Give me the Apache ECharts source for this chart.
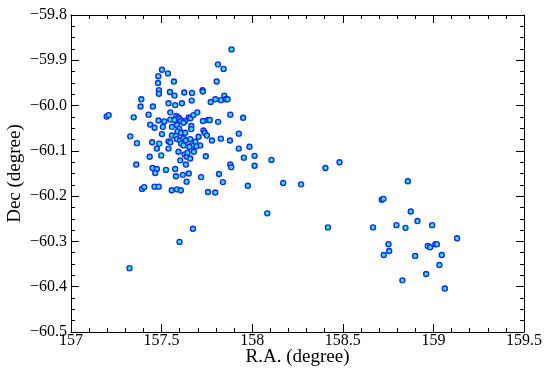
<!DOCTYPE html>
<html>
<head>
<meta charset="utf-8">
<script src="https://cdn.jsdelivr.net/npm/echarts@6/dist/echarts.min.js"></script>
<style>html,body{margin:0;padding:0;background:#fff}#c{width:550px;height:380px}</style>
</head>
<body>
<div id="c"></div>
<script>
// Tick values (labels)
var xTicks = [157, 157.5, 158, 158.5, 159, 159.5];
var yTicks = [-60.5, -60.4, -60.3, -60.2, -60.1, -60.0, -59.9, -59.8];
var xTitle = 'R.A. (degree)';
var yTitle = 'Dec (degree)';

// Source positions: right ascension (degree)
var ra = [
157.197,157.208,157.346,157.327,157.364,157.388,157.384,157.452,157.428,157.437,
157.483,157.515,157.502,157.482,157.535,157.480,157.485,157.485,157.568,157.546,
157.571,157.625,157.668,157.666,157.726,157.728,157.538,157.575,157.612,157.548,
157.581,157.592,157.599,157.607,157.548,157.571,157.630,157.650,157.659,157.676,
157.697,157.728,157.756,157.766,157.812,157.771,157.797,157.828,157.846,157.854,
157.864,157.804,157.811,157.842,157.886,157.879,157.950,157.926,157.557,157.585,
157.597,157.588,157.621,157.664,157.664,157.731,157.738,157.750,157.557,157.579,
157.608,157.630,157.585,157.603,157.621,157.634,157.658,157.686,157.704,157.713,
157.691,157.667,157.653,157.608,157.621,157.778,157.827,157.877,157.926,157.954,
157.985,158.013,158.106,158.013,157.976,157.593,157.627,157.640,157.643,157.658,
157.603,157.634,157.744,157.879,157.884,157.524,157.575,157.617,157.650,157.579,
157.718,157.817,157.638,157.838,157.556,157.585,157.606,157.756,157.796,157.392,
157.404,157.461,157.484,157.360,157.450,157.474,157.465,157.434,157.498,157.474,
157.538,157.448,157.487,157.538,157.548,157.502,157.461,157.507,157.678,
158.171,158.270,158.404,158.482,158.083,158.418,157.673,157.599,157.323,
158.859,158.715,158.724,158.875,158.912,158.993,158.667,158.796,158.846,159.131,
158.752,158.756,158.726,158.969,158.982,159.011,159.019,159.046,158.899,159.033,
158.960,158.829,159.063
];
// Source positions: declination (degree)
var dec = [
-60.024,-60.021,-60.026,-60.068,-60.083,-59.986,-60.002,-60.002,-60.020,-60.042,
-60.033,-60.035,-59.921,-59.935,-59.929,-59.950,-59.966,-59.974,-59.947,-59.970,
-59.978,-59.971,-59.972,-59.989,-59.966,-59.969,-59.995,-59.999,-59.995,-60.015,
-60.023,-60.026,-60.029,-60.034,-60.031,-60.032,-60.034,-60.026,-60.028,-60.021,
-60.015,-60.034,-60.032,-60.032,-60.036,-59.992,-59.986,-59.988,-59.978,-59.986,
-59.986,-59.947,-59.909,-59.919,-59.876,-60.020,-60.027,-60.062,-60.047,-60.043,
-60.051,-60.057,-60.038,-60.045,-60.052,-60.055,-60.060,-60.066,-60.066,-60.067,
-60.060,-60.060,-60.074,-60.077,-60.072,-60.077,-60.074,-60.080,-60.069,-60.088,
-60.090,-60.088,-60.091,-60.084,-60.088,-60.077,-60.073,-60.077,-60.095,-60.115,
-60.091,-60.111,-60.120,-60.133,-60.177,-60.102,-60.108,-60.113,-60.104,-60.117,
-60.121,-60.130,-60.112,-60.130,-60.136,-60.142,-60.140,-60.153,-60.150,-60.156,
-60.158,-60.151,-60.168,-60.169,-60.187,-60.185,-60.187,-60.191,-60.192,-60.184,
-60.180,-60.179,-60.179,-60.130,-60.138,-60.140,-60.149,-60.113,-60.110,-60.095,
-60.095,-60.081,-60.084,-60.079,-60.081,-60.063,-60.049,-60.047,-60.102,
-60.171,-60.174,-60.138,-60.125,-60.238,-60.269,-60.272,-60.301,-60.359,
-60.167,-60.208,-60.206,-60.234,-60.255,-60.264,-60.269,-60.264,-60.270,-60.293,
-60.306,-60.321,-60.330,-60.310,-60.313,-60.306,-60.306,-60.330,-60.332,-60.352,
-60.372,-60.386,-60.404
];

var points = ra.map(function (x, i) { return [x, dec[i]]; });

var font = 'Liberation Serif';
var xMin = xTicks[0], xMax = xTicks[xTicks.length - 1], xInt = xTicks[1] - xTicks[0];
var yMin = yTicks[0], yMax = yTicks[yTicks.length - 1], yInt = 0.1;

function fmtY(v) { return v.toFixed(1).replace('-', '\u2212'); }
function fmtX(v) { return String(+v.toFixed(1)); }

var baseAxis = {
  axisLine: { show: true, onZero: false, lineStyle: { color: '#000', width: 1 } },
  axisTick: { show: true, inside: true, length: 8, lineStyle: { color: '#000', width: 1 } },
  splitLine: { show: false }
};

function ax(o) { return Object.assign({}, JSON.parse(JSON.stringify(baseAxis)), o); }

var chart = echarts.init(document.getElementById('c'), null, { renderer: 'canvas' });
chart.setOption({
  animation: false,
  backgroundColor: '#fff',
  grid: { left: 71, right: 26, top: 15, bottom: 48, containLabel: false, outerBoundsMode: 'none' },
  xAxis: [
    ax({
      type: 'value', position: 'bottom', min: xMin, max: xMax, interval: xInt,
      minorTick: { show: true, splitNumber: 5, length: 4, lineStyle: { color: '#000' } },
      axisLabel: { color: '#000', fontFamily: font, fontSize: 16, margin: 1, formatter: fmtX },
      name: xTitle, nameLocation: 'middle', nameGap: 16, nameMoveOverlap: false,
      nameTextStyle: { color: '#000', fontFamily: font, fontSize: 19 }
    }),
    ax({
      type: 'value', position: 'top', min: xMin, max: xMax, interval: xInt,
      minorTick: { show: true, splitNumber: 5, length: 4, lineStyle: { color: '#000' } },
      axisLabel: { show: false }
    })
  ],
  yAxis: [
    ax({
      type: 'value', position: 'left', min: yMin, max: yMax, interval: yInt,
      minorTick: { show: true, splitNumber: 4, length: 4, lineStyle: { color: '#000' } },
      axisLabel: { color: '#000', fontFamily: font, fontSize: 16, margin: 4, formatter: fmtY },
      name: yTitle, nameLocation: 'middle', nameGap: 46, nameMoveOverlap: false,
      nameTextStyle: { color: '#000', fontFamily: font, fontSize: 19 }
    }),
    ax({
      type: 'value', position: 'right', min: yMin, max: yMax, interval: yInt,
      minorTick: { show: true, splitNumber: 4, length: 4, lineStyle: { color: '#000' } },
      axisLabel: { show: false }
    })
  ],
  series: [{
    type: 'scatter',
    xAxisIndex: 0, yAxisIndex: 0,
    data: points,
    symbol: 'circle',
    symbolSize: 5,
    itemStyle: { color: '#3ee0c8', borderColor: '#0a2aff', borderWidth: 1.4, opacity: 1 }
  }]
});
</script>
</body>
</html>
